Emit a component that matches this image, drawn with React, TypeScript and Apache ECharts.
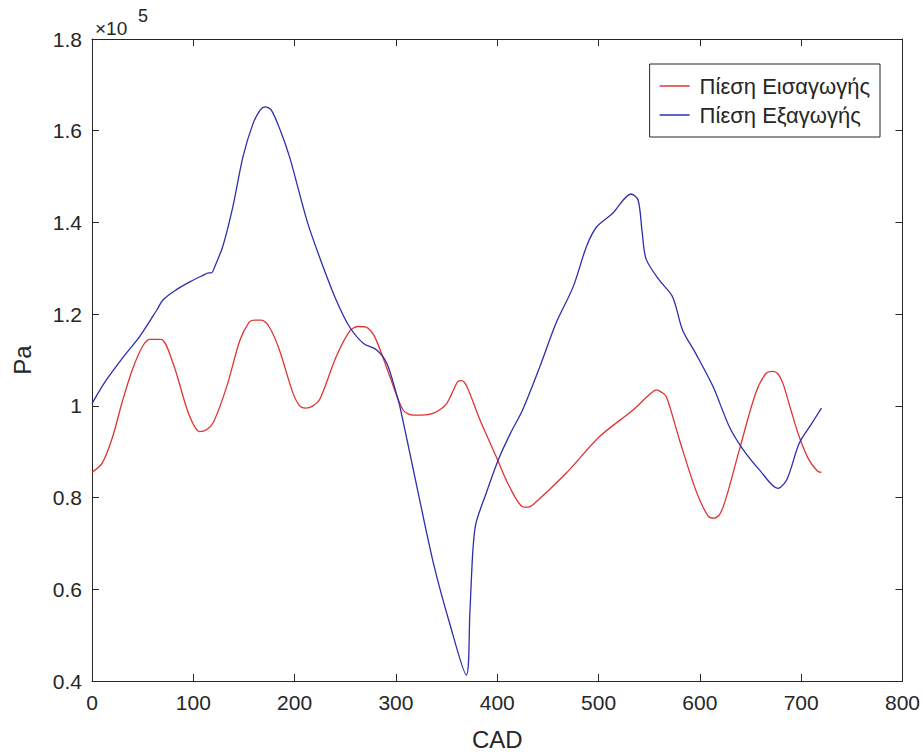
import React, { useEffect, useRef } from "react";
import * as echarts from "echarts";

// Values in units of 10^5 Pa
const seriesNames = ["Πίεση Εισαγωγής", "Πίεση Εξαγωγής"];

const intakeCad = [0, 10, 20, 30, 40, 50, 57, 68, 80, 93, 100, 106, 113, 120, 133, 146, 155, 160, 167, 175, 185, 198, 205, 211, 218, 225, 241, 254, 262, 270, 279, 294, 307, 317, 325, 337, 350, 361, 365, 370, 383, 399, 412, 425, 430, 435, 468, 501, 534, 550, 557, 562, 567, 580, 596, 608, 614, 620, 626, 639, 655, 665, 672, 677, 682, 690, 698, 707, 716, 720];
const intakePa = [0.855, 0.875, 0.93, 1.01, 1.08, 1.13, 1.145, 1.145, 1.093, 0.998, 0.96, 0.944, 0.948, 0.965, 1.042, 1.143, 1.182, 1.187, 1.187, 1.172, 1.122, 1.03, 1.0, 0.995, 1.0, 1.015, 1.107, 1.162, 1.173, 1.172, 1.151, 1.064, 0.991, 0.98, 0.98, 0.984, 1.005, 1.053, 1.055, 1.042, 0.969, 0.889, 0.824, 0.78, 0.779, 0.784, 0.853, 0.933, 0.991, 1.024, 1.035, 1.03, 1.02, 0.925, 0.816, 0.76, 0.755, 0.765, 0.8, 0.904, 1.027, 1.07, 1.075, 1.07, 1.049, 0.99, 0.933, 0.885, 0.858, 0.855];

const exhaustCad = [0, 14, 31, 47, 64, 70, 83, 97, 110, 115, 118, 121, 129, 139, 149, 159, 166, 171, 177, 186, 195, 204, 213, 227, 241, 254, 268, 281, 291, 300, 304, 320, 337, 353, 369.5, 373, 376, 379, 389, 401, 413, 425, 442, 458, 475, 488, 498, 514, 532, 539, 543, 547, 560, 573, 583, 596, 613, 629, 642, 659, 677, 686, 698, 710, 720];
const exhaustPa = [1.005, 1.056, 1.107, 1.151, 1.209, 1.231, 1.253, 1.271, 1.285, 1.29, 1.29, 1.303, 1.347, 1.434, 1.543, 1.616, 1.645, 1.652, 1.645, 1.6, 1.543, 1.47, 1.398, 1.31, 1.231, 1.173, 1.136, 1.122, 1.093, 1.03, 0.998, 0.831, 0.657, 0.526, 0.413, 0.55, 0.686, 0.744, 0.809, 0.882, 0.94, 0.991, 1.085, 1.18, 1.26, 1.347, 1.39, 1.42, 1.462, 1.449, 1.38, 1.32, 1.274, 1.238, 1.165, 1.114, 1.042, 0.955, 0.907, 0.86, 0.82, 0.84, 0.918, 0.96, 0.995];

const exponentBase = "×10";
const exponentPower = "5";

const colors = ["#e03434", "#2e2eac"];
const FONT = "'Liberation Sans', Arial, Helvetica, sans-serif";
const AX = "#262626";

export default function App() {
  const ref = useRef<HTMLDivElement>(null);
  useEffect(() => {
    if (!ref.current) return;
    const chart = echarts.init(ref.current, null, { renderer: "svg" });
    const axisCommon = {
      type: "value" as const,
      axisLine: { show: true, onZero: false, lineStyle: { color: AX, width: 1 } },
      axisTick: { show: true, inside: true, length: 7, lineStyle: { color: AX, width: 1 } },
      splitLine: { show: false },
    };
    chart.setOption({
      animation: false,
      backgroundColor: "#ffffff",
      textStyle: { fontFamily: FONT },
      title: [
        {
          text: exponentBase,
          left: 95,
          top: 19,
          padding: 0,
          textStyle: { fontSize: 19, fontWeight: "normal", color: AX, fontFamily: FONT, lineHeight: 19 },
        },
        {
          text: exponentPower,
          left: 138,
          top: 7,
          padding: 0,
          textStyle: { fontSize: 18, fontWeight: "normal", color: AX, fontFamily: FONT, lineHeight: 18 },
        },
      ],
      grid: { left: 92, right: 20, top: 39, bottom: 75, containLabel: false },
      xAxis: [
        {
          ...axisCommon,
          position: "bottom",
          min: 0,
          max: 800,
          interval: 100,
          axisLabel: { fontSize: 21, color: AX, margin: 11, fontFamily: FONT },
          name: "CAD",
          nameLocation: "middle",
          nameGap: 46,
          nameTextStyle: { fontSize: 24, color: AX, fontFamily: FONT },
        },
        {
          ...axisCommon,
          position: "top",
          min: 0,
          max: 800,
          interval: 100,
          axisLabel: { show: false },
        },
      ],
      yAxis: [
        {
          ...axisCommon,
          position: "left",
          min: 0.4,
          max: 1.8,
          interval: 0.2,
          axisLabel: {
            fontSize: 21,
            color: AX,
            margin: 10,
            fontFamily: FONT,
            formatter: (v: number) => String(Math.round(v * 10) / 10),
          },
          name: "Pa",
          nameLocation: "middle",
          nameGap: 58,
          nameRotate: 90,
          nameTextStyle: { fontSize: 24, color: AX, fontFamily: FONT },
        },
        {
          ...axisCommon,
          position: "right",
          min: 0.4,
          max: 1.8,
          interval: 0.2,
          axisLabel: { show: false },
        },
      ],
      legend: {
        data: seriesNames.map((n) => ({ name: n, icon: "rect" })),
        orient: "vertical",
        right: 43,
        top: 64,
        padding: [11, 10, 11, 10],
        itemGap: 7,
        itemWidth: 30,
        itemHeight: 1.5,
        borderColor: AX,
        borderWidth: 1,
        backgroundColor: "#ffffff",
        borderRadius: 0,
        textStyle: { fontSize: 22, color: AX, fontFamily: FONT, padding: [0, 0, 0, 5], lineHeight: 22 },
      },
      series: [
        {
          name: seriesNames[0],
          type: "line",
          symbol: "none",
          smooth: 0.3,
          data: intakeCad.map((x, i) => [x, intakePa[i]]),
          lineStyle: { color: colors[0], width: 1.3 },
          itemStyle: { color: colors[0] },
        },
        {
          name: seriesNames[1],
          type: "line",
          symbol: "none",
          smooth: 0.3,
          data: exhaustCad.map((x, i) => [x, exhaustPa[i]]),
          lineStyle: { color: colors[1], width: 1.3 },
          itemStyle: { color: colors[1] },
        },
      ],
    });
    return () => chart.dispose();
  }, []);
  return (
    <div
      ref={ref}
      style={{ position: "fixed", left: 0, top: 0, width: 923, height: 756, background: "#fff" }}
    />
  );
}
